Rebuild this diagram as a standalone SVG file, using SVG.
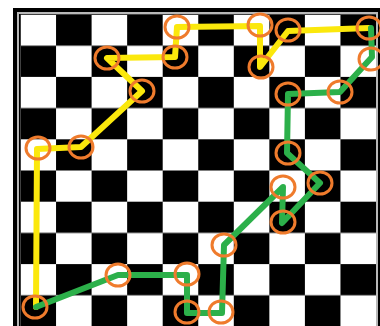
<svg xmlns="http://www.w3.org/2000/svg" width="380" height="326" viewBox="0 0 380 326">
<defs>
<pattern id="checker" patternUnits="userSpaceOnUse" x="20.5" y="14.5" width="71.1" height="62.4">
<rect x="0" y="0" width="71.1" height="62.4" fill="#ffffff"/>
<rect x="35.55" y="0" width="35.55" height="31.2" fill="#000000"/>
<rect x="0" y="31.2" width="35.55" height="31.2" fill="#000000"/>
</pattern>
<style>
.y{fill:none;stroke:#fbe80c;stroke-width:6;stroke-linecap:round;stroke-linejoin:round}
.g{fill:none;stroke:#2cb04a;stroke-width:6;stroke-linecap:round;stroke-linejoin:round}
.n ellipse{fill:none;stroke:#ef7b2c;stroke-width:3}
</style>
</defs>
<rect x="0" y="0" width="380" height="326" fill="#ffffff"/>
<rect x="13" y="8" width="367" height="320" fill="#000000"/>
<rect x="18" y="13" width="359" height="316" fill="none" stroke="#b8b8b8" stroke-width="2"/>
<rect x="20.5" y="14.5" width="355.5" height="312" fill="url(#checker)"/>
<g id="connectors">
<polyline id="yellow-path" class="y" points="36,307 37,149 81,147 142,91 107,58 175,57 177,27 260,26 260,67 288,31 369,28"/>
<polyline id="green-path" class="g" points="371,28 372,57 340,92 288,94 287,153 320,183 282,223 283,187 224,245 222,313 187,313 187,275 118,275 36,307"/>
</g>
<g id="n1" class="n"><ellipse cx="177" cy="27" rx="12" ry="11"/></g>
<g id="n2" class="n"><ellipse cx="175" cy="57" rx="12" ry="11"/></g>
<g id="n3" class="n"><ellipse cx="107" cy="58" rx="12" ry="11"/></g>
<g id="n4" class="n"><ellipse cx="142" cy="91" rx="12" ry="11"/></g>
<g id="n5" class="n"><ellipse cx="38" cy="148" rx="12" ry="11"/></g>
<g id="n6" class="n"><ellipse cx="81" cy="147" rx="12" ry="11"/></g>
<g id="n7" class="n"><ellipse cx="260" cy="25" rx="12" ry="11"/></g>
<g id="n8" class="n"><ellipse cx="261" cy="67" rx="12" ry="11"/></g>
<g id="n9" class="n"><ellipse cx="288" cy="30" rx="12" ry="11"/></g>
<g id="n10" class="n"><ellipse cx="369" cy="28" rx="12" ry="11"/></g>
<g id="n11" class="n"><ellipse cx="371" cy="59" rx="12" ry="11"/></g>
<g id="n12" class="n"><ellipse cx="340" cy="92" rx="12" ry="11"/></g>
<g id="n13" class="n"><ellipse cx="288" cy="94" rx="12" ry="11"/></g>
<g id="n14" class="n"><ellipse cx="288" cy="153" rx="12" ry="11"/></g>
<g id="n15" class="n"><ellipse cx="320" cy="183" rx="12" ry="11"/></g>
<g id="n16" class="n"><ellipse cx="283" cy="187" rx="12" ry="11"/></g>
<g id="n17" class="n"><ellipse cx="283" cy="222" rx="12" ry="11"/></g>
<g id="n18" class="n"><ellipse cx="224" cy="245" rx="12" ry="11"/></g>
<g id="n19" class="n"><ellipse cx="221" cy="312" rx="12" ry="11"/></g>
<g id="n20" class="n"><ellipse cx="187" cy="312" rx="12" ry="11"/></g>
<g id="n21" class="n"><ellipse cx="187" cy="274" rx="12" ry="11"/></g>
<g id="n22" class="n"><ellipse cx="118" cy="275" rx="12" ry="11"/></g>
<g id="n23" class="n"><ellipse cx="35" cy="307" rx="12" ry="11"/></g>
</svg>
